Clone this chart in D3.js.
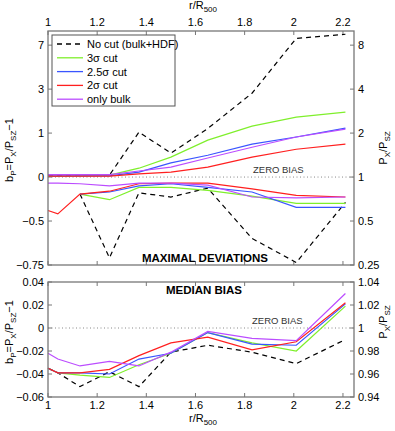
<!DOCTYPE html>
<html>
<head>
<meta charset="utf-8">
<script src="https://cdn.jsdelivr.net/npm/d3@7"></script>
<style>
  body { margin: 0; background: #fff; }
  text { font-family: "Liberation Sans", Arial, Helvetica, sans-serif; }
</style>
</head>
<body>
<div id="chart"></div>
<script>
// radial bins (r/R500)
var radii = [1.0, 1.04, 1.13, 1.25, 1.37, 1.5, 1.65, 1.83, 2.01, 2.21];

// maximal deviations, b_P (upper / lower envelope)
var noCutMax = [0.03, 0.03, 0.03, 0.03, 1.03, 0.46, 1.15, 2.75, 7.9, 8.5];
var noCutMin = [null, null, -0.235, -0.72, -0.22, -0.27, -0.16, -0.62, -0.74, -0.33];
var sig3Max  = [0.01, 0.01, 0.02, 0.03, 0.15, 0.37, 0.79, 1.23, 1.57, 1.78];
var sig3Min  = [null, null, -0.235, -0.30, -0.15, -0.15, -0.19, -0.26, -0.34, -0.34];
var sig25Max = [0.02, 0.02, 0.02, 0.02, 0.08, 0.25, 0.41, 0.68, 0.88, 1.16];
var sig25Min = [null, null, -0.235, -0.21, -0.13, -0.10, -0.15, -0.21, -0.38, -0.38];
var sig2Max  = [0.015, 0.015, 0.015, 0.015, 0.05, 0.08, 0.17, 0.37, 0.55, 0.68];
var sig2Min  = [-0.41, -0.44, -0.235, -0.20, -0.10, -0.09, -0.09, -0.17, -0.25, -0.27];
var bulkMax  = [0.04, 0.04, 0.04, 0.04, 0.10, 0.17, 0.35, 0.60, 0.88, 1.13];
var bulkMin  = [-0.09, -0.09, -0.10, -0.13, -0.09, -0.09, -0.12, -0.27, -0.28, -0.27];

// median bias, b_P
var noCutMed = [-0.035, -0.039, -0.051, -0.038, -0.051, -0.021, -0.015, -0.021, -0.031, -0.010];
var sig3Med  = [-0.035, -0.039, -0.041, -0.043, -0.032, -0.022, -0.004, -0.013, -0.020, 0.019];
var sig25Med = [-0.035, -0.039, -0.039, -0.040, -0.027, -0.022, -0.004, -0.014, -0.015, 0.021];
var sig2Med  = [-0.035, -0.039, -0.039, -0.036, -0.024, -0.013, -0.008, -0.019, -0.012, 0.022];
var bulkMed  = [-0.022, -0.027, -0.033, -0.029, -0.033, -0.021, -0.003, -0.009, -0.011, 0.030];

// tick labels
var xTicks = [1, 1.2, 1.4, 1.6, 1.8, 2, 2.2];
var topRatioTicks = [8, 4, 2, 1, 0.5, 0.25];
var botTicks = [0.04, 0.02, 0, -0.02, -0.04, -0.06];

var series = [
  { name: "No cut (bulk+HDF)", color: "#000", dash: "5,4", max: noCutMax, min: noCutMin, med: noCutMed },
  { name: "3\u03c3 cut", color: "#7fef2c", dash: null, max: sig3Max, min: sig3Min, med: sig3Med },
  { name: "2.5\u03c3 cut", color: "#3a55ff", dash: null, max: sig25Max, min: sig25Min, med: sig25Med },
  { name: "2\u03c3 cut", color: "#ff1f1f", dash: null, max: sig2Max, min: sig2Min, med: sig2Med },
  { name: "only bulk", color: "#bb4cff", dash: null, max: bulkMax, min: bulkMin, med: bulkMed }
];

var width = 395, height = 431;
var svg = d3.select("#chart").append("svg")
  .attr("width", width).attr("height", height);

var left = 48, right = 354;
var topY0 = 31, topY1 = 265;
var botY0 = 282, botY1 = 397;

var x = d3.scaleLinear().domain([1, 1 + (right - left) / 245.8]).range([left, right]);
var yTop = d3.scaleLog().base(2).domain([0.25, 10]).range([topY1, topY0]);
var yBot = d3.scaleLinear().domain([-0.06, 0.04]).range([botY1, botY0]);

var axisColor = "#777";
var fs = 11;

function subLabel(g, parts) {
  // parts: [text, isSub, backUp]
  parts.forEach(function(p) {
    g.append("tspan").text(p[0])
      .attr("font-size", p[1] ? 8 : fs)
      .attr("dy", p[1] ? 3 : (p[2] ? -3 : 0));
  });
}

function frame(y0, y1) {
  svg.append("rect")
    .attr("x", left).attr("y", y0)
    .attr("width", right - left).attr("height", y1 - y0)
    .attr("fill", "none").attr("stroke", axisColor).attr("stroke-width", 1.3);
}

// ---------- top panel ----------
var gTop = svg.append("g");
frame(topY0, topY1);

xTicks.forEach(function(t) {
  gTop.append("line").attr("x1", x(t)).attr("x2", x(t)).attr("y1", topY0).attr("y2", topY0 + 4).attr("stroke", axisColor);
  gTop.append("line").attr("x1", x(t)).attr("x2", x(t)).attr("y1", topY1).attr("y2", topY1 - 4).attr("stroke", axisColor);
  gTop.append("text").attr("x", x(t)).attr("y", topY0 - 5)
    .attr("text-anchor", "middle").attr("font-size", fs).text(d3.format("")(t));
});

topRatioTicks.forEach(function(r) {
  var yy = yTop(r);
  gTop.append("line").attr("x1", left).attr("x2", left + 4).attr("y1", yy).attr("y2", yy).attr("stroke", axisColor);
  gTop.append("line").attr("x1", right).attr("x2", right - 4).attr("y1", yy).attr("y2", yy).attr("stroke", axisColor);
  gTop.append("text").attr("x", left - 4).attr("y", yy + 4)
    .attr("text-anchor", "end").attr("font-size", fs)
    .text(d3.format("")(+(r - 1).toFixed(2)).replace("-", "\u2212"));
  gTop.append("text").attr("x", right + 4).attr("y", yy + 4)
    .attr("text-anchor", "start").attr("font-size", fs).text(r);
});

// zero bias line
gTop.append("line").attr("x1", left).attr("x2", right)
  .attr("y1", yTop(1)).attr("y2", yTop(1))
  .attr("stroke", "#888").attr("stroke-dasharray", "1,2.5");
gTop.append("text").attr("x", 253).attr("y", yTop(1) - 4)
  .attr("font-size", 9.5).attr("fill", "#333").text("ZERO BIAS");

var lineTop = d3.line()
  .defined(function(d) { return d[1] !== null; })
  .x(function(d) { return x(d[0]); })
  .y(function(d) { return yTop(1 + d[1]); });

series.forEach(function(s) {
  ["max", "min"].forEach(function(k) {
    gTop.append("path")
      .datum(radii.map(function(r, i) { return [r, s[k][i]]; }))
      .attr("d", lineTop)
      .attr("fill", "none").attr("stroke", s.color).attr("stroke-width", 1.2)
      .attr("stroke-dasharray", s.dash);
  });
});

gTop.append("text").attr("x", 205).attr("y", 262)
  .attr("text-anchor", "middle").attr("font-size", 11.5).attr("font-weight", "bold")
  .text("MAXIMAL DEVIATIONS");

// legend
var leg = svg.append("g");
leg.append("rect").attr("x", 52).attr("y", 35).attr("width", 123).attr("height", 71)
  .attr("fill", "#fff").attr("stroke", "#555");
series.forEach(function(s, i) {
  var ly = 44 + i * 13.8;
  leg.append("line").attr("x1", 57).attr("x2", 83).attr("y1", ly).attr("y2", ly)
    .attr("stroke", s.color).attr("stroke-width", 1.3).attr("stroke-dasharray", s.dash);
  leg.append("text").attr("x", 87).attr("y", ly + 4).attr("font-size", fs).text(s.name);
});

// ---------- bottom panel ----------
var gBot = svg.append("g");
frame(botY0, botY1);

xTicks.forEach(function(t) {
  gBot.append("line").attr("x1", x(t)).attr("x2", x(t)).attr("y1", botY1).attr("y2", botY1 - 4).attr("stroke", axisColor);
  gBot.append("line").attr("x1", x(t)).attr("x2", x(t)).attr("y1", botY0).attr("y2", botY0 + 4).attr("stroke", axisColor);
  gBot.append("text").attr("x", x(t)).attr("y", botY1 + 12)
    .attr("text-anchor", "middle").attr("font-size", fs).text(d3.format("")(t));
});

botTicks.forEach(function(b) {
  var yy = yBot(b);
  gBot.append("line").attr("x1", left).attr("x2", left + 4).attr("y1", yy).attr("y2", yy).attr("stroke", axisColor);
  gBot.append("line").attr("x1", right).attr("x2", right - 4).attr("y1", yy).attr("y2", yy).attr("stroke", axisColor);
  gBot.append("text").attr("x", left - 4).attr("y", yy + 4)
    .attr("text-anchor", "end").attr("font-size", fs)
    .text(d3.format(".2f")(b).replace("-", "\u2212").replace(/^0\.00$/, "0"));
  gBot.append("text").attr("x", right + 4).attr("y", yy + 4)
    .attr("text-anchor", "start").attr("font-size", fs)
    .text(b === 0 ? "1" : d3.format(".2f")(1 + b));
});

gBot.append("line").attr("x1", left).attr("x2", right)
  .attr("y1", yBot(0)).attr("y2", yBot(0))
  .attr("stroke", "#888").attr("stroke-dasharray", "1,2.5");
gBot.append("text").attr("x", 252).attr("y", yBot(0) - 4)
  .attr("font-size", 9.5).attr("fill", "#333").text("ZERO BIAS");

var lineBot = d3.line()
  .x(function(d) { return x(d[0]); })
  .y(function(d) { return yBot(d[1]); });

series.forEach(function(s) {
  gBot.append("path")
    .datum(radii.map(function(r, i) { return [r, s.med[i]]; }))
    .attr("d", lineBot)
    .attr("fill", "none").attr("stroke", s.color).attr("stroke-width", 1.2)
    .attr("stroke-dasharray", s.dash);
});

gBot.append("text").attr("x", 204).attr("y", 294)
  .attr("text-anchor", "middle").attr("font-size", 11.5).attr("font-weight", "bold")
  .text("MEDIAN BIAS");

// ---------- axis titles ----------
function rLabel(yy) {
  var t = svg.append("text").attr("x", 189).attr("y", yy).attr("font-size", fs);
  t.append("tspan").text("r/R");
  t.append("tspan").text("500").attr("font-size", 8).attr("dy", 3);
}
rLabel(9);
rLabel(422);

function bLabel(cy) {
  var t = svg.append("text").attr("transform", "translate(13," + cy + ") rotate(-90)")
    .attr("text-anchor", "middle").attr("font-size", fs);
  subLabel(t, [["b", 0], ["P", 1], ["=P", 0, 1], ["X", 1], ["/P", 0, 1], ["SZ", 1], ["\u22121", 0, 1]]);
}
bLabel(150);
bLabel(332);

function pLabel(cy) {
  var t = svg.append("text").attr("transform", "translate(387," + cy + ") rotate(-90)")
    .attr("text-anchor", "middle").attr("font-size", fs);
  subLabel(t, [["P", 0], ["X", 1], ["/P", 0, 1], ["SZ", 1]]);
}
pLabel(148);
pLabel(322);
</script>
</body>
</html>
